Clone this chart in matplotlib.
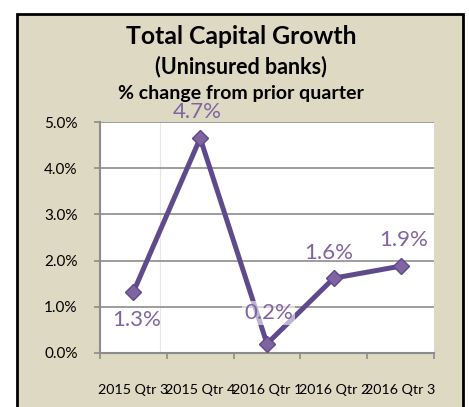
import numpy as np
import matplotlib
matplotlib.use("Agg")
import matplotlib.pyplot as plt
from matplotlib.patches import Rectangle

quarters = ["2015 Qtr 3", "2015 Qtr 4", "2016 Qtr 1", "2016 Qtr 2", "2016 Qtr 3"]
growth = [1.32, 4.65, 0.2, 1.62, 1.88]
labels = ["1.3%", "4.7%", "0.2%", "1.6%", "1.9%"]
label_offsets = [(2, -20), (-2, 19), (1, 22), (-4, 18), (2, 19)]

plt.rcParams['font.family'] = ['Lato', 'DejaVu Sans']

fig = plt.figure(figsize=(4.69, 4.07), dpi=100)
fig.patch.set_facecolor("white")

# beige chart panel with black frame
panel = Rectangle((17/469, -0.05), 446/469, 1 - 14/407 + 0.05, transform=fig.transFigure,
                  facecolor="#DDD9C3", edgecolor="black", linewidth=2, zorder=-1)
fig.patches.append(panel)

ax = fig.add_axes([100/469, 1-353/407, 334/469, (353-122)/407])
ax.set_zorder(2)
ax.set_facecolor("white")

x = np.arange(len(quarters))
ax.plot(x, growth, color="#5F4B8B", linewidth=3.6, marker="D", markersize=8.5,
        markerfacecolor="#8064A2", markeredgecolor="#5F4B8B", markeredgewidth=1, zorder=3)

for xi, yi, lab, off in zip(x, growth, labels, label_offsets):
    bb = None
    if lab == "0.2%":
        bb = dict(boxstyle="square,pad=0.1", facecolor="white", edgecolor="none", alpha=0.6)
    ax.annotate(lab, (xi, yi), xytext=off, textcoords="offset points",
                ha="center", va="center", fontsize=16, color="#8064A2", zorder=4, bbox=bb)

ax.set_xlim(-0.5, 4.5)
ax.set_ylim(0, 5)
ax.set_yticks(np.arange(0, 5.01, 1))
ax.set_yticklabels([f"{v:.1f}%" for v in np.arange(0, 5.01, 1)], fontsize=11)
ax.set_xticks(x)
ax.set_xticklabels(quarters, fontsize=10.3)
ax.set_xticks(np.arange(-0.5, 4.6, 1), minor=True)
ax.tick_params(axis="x", which="major", length=0, pad=22)
ax.tick_params(axis="x", which="minor", length=4, color="#8c8c8c", width=1.2)
ax.tick_params(axis="y", length=4, color="#8c8c8c", width=1.2, pad=12)
ax.grid(axis="y", color="#8c8c8c", linewidth=1.2, zorder=1)
ax.axvline(0.4, color="#e6e6e6", linewidth=0.8, zorder=1)
for s in ["top", "right"]:
    ax.spines[s].set_visible(False)
for s in ["left", "bottom"]:
    ax.spines[s].set_color("#8c8c8c")
    ax.spines[s].set_linewidth(1.5)

fig.text(241/469, 1-36/407, "Total Capital Growth", ha="center", va="center",
         fontsize=17.8, fontweight="bold")
fig.text(241/469, 1-67/407, "(Uninsured banks)", ha="center", va="center",
         fontsize=15.5, fontweight="bold")
fig.text(241/469, 1-94/407, "% change from prior quarter", ha="center", va="center",
         fontsize=14, fontweight="bold")

fig.savefig("out.png", dpi=100)
